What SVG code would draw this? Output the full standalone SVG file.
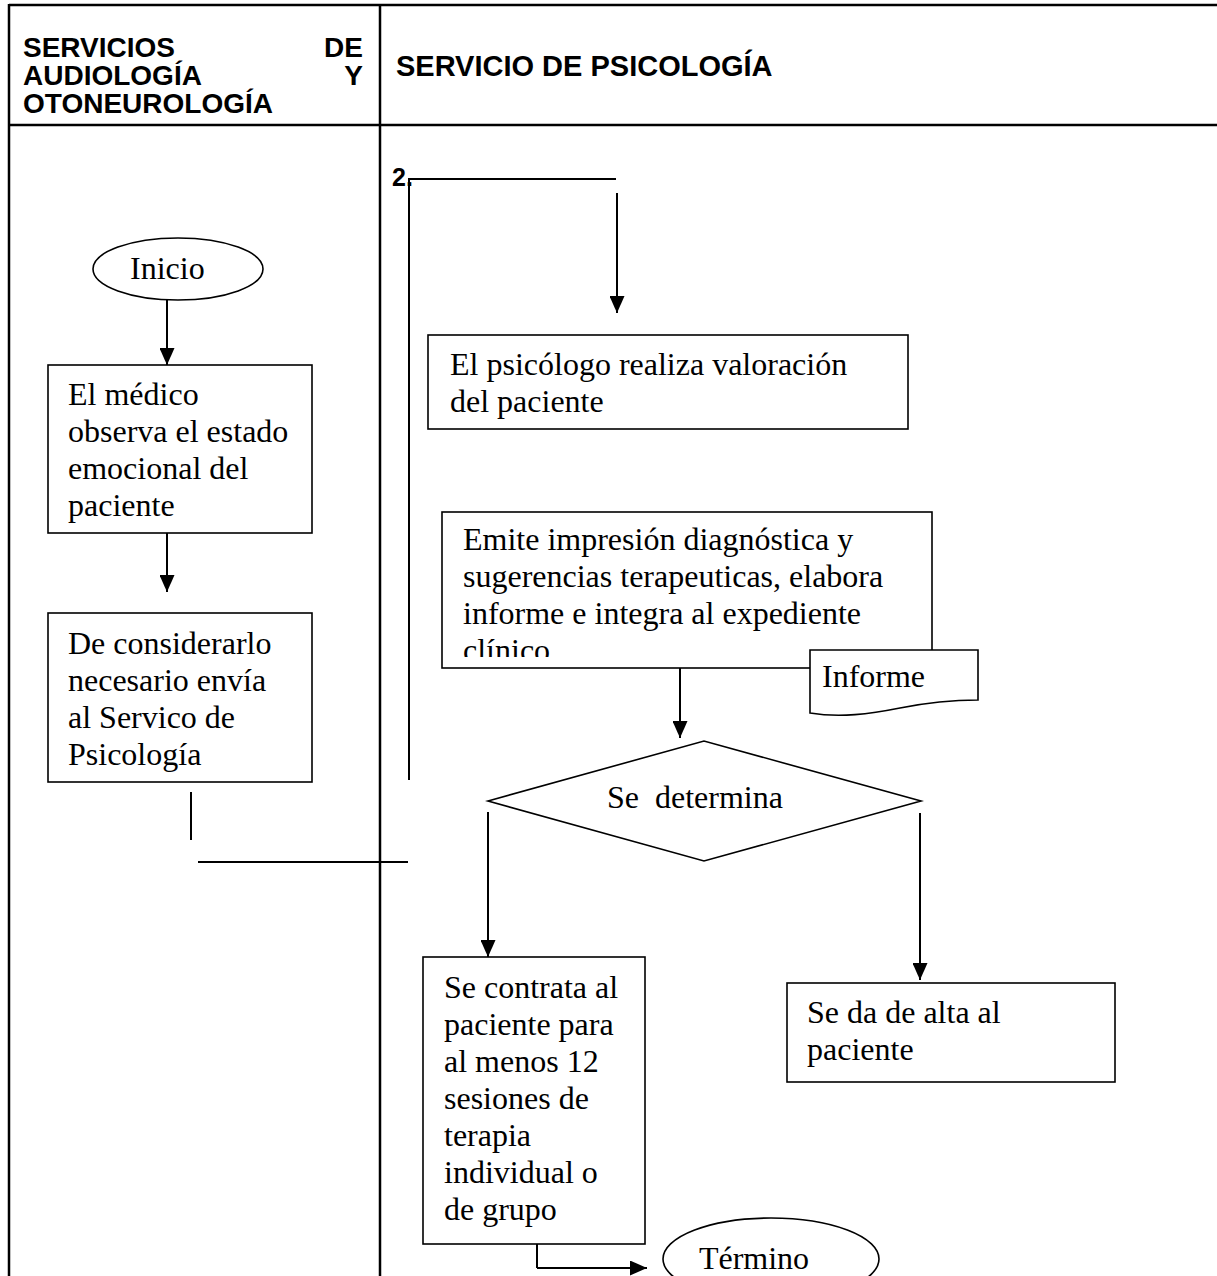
<svg xmlns="http://www.w3.org/2000/svg" width="1217" height="1276" viewBox="0 0 1217 1276">
<defs>
<style>
.tbl{stroke:#000;stroke-width:2.5;fill:none}
.box{stroke:#000;stroke-width:1.6;fill:#fff}
.ln{stroke:#000;stroke-width:2;fill:none}
.arr{stroke:#000;stroke-width:2;fill:none;marker-end:url(#ah)}
.hd{font-family:"Liberation Sans",Arial,sans-serif;font-weight:bold;font-size:28px;fill:#000}
.hd2{font-family:"Liberation Sans",Arial,sans-serif;font-weight:bold;font-size:29px;fill:#000}
.tx{font-family:"Liberation Serif","Times New Roman",serif;font-size:32px;fill:#000}
</style>
<marker id="ah" markerUnits="userSpaceOnUse" markerWidth="17" markerHeight="15" refX="17" refY="7.5" orient="auto">
<path d="M0,0 L17,7.5 L0,15 z" fill="#000"/>
</marker>
<clipPath id="clipEmite"><rect x="442" y="512" width="490" height="145"/></clipPath>
</defs>
<rect width="1217" height="1276" fill="#fff"/>
<g id="table">
<line class="tbl" x1="9" y1="5" x2="1217" y2="5"/>
<line class="tbl" x1="9" y1="125" x2="1217" y2="125"/>
<line class="tbl" x1="9" y1="4" x2="9" y2="1276"/>
<line class="tbl" x1="380" y1="4" x2="380" y2="1276"/>
<text class="hd" x="23" y="57">SERVICIOS</text>
<text class="hd" x="363" y="57" text-anchor="end">DE</text>
<text class="hd" x="23" y="85">AUDIOLOGÍA</text>
<text class="hd" x="363" y="85" text-anchor="end">Y</text>
<text class="hd" x="23" y="113">OTONEUROLOGÍA</text>
<text class="hd2" x="396" y="76">SERVICIO DE PSICOLOGÍA</text>
</g>
<g id="connectors">
<line class="arr" x1="167" y1="300" x2="167" y2="365"/>
<line class="arr" x1="167" y1="533" x2="167" y2="592"/>
<line class="ln" x1="191" y1="792" x2="191" y2="840"/>
<line class="ln" x1="198" y1="862" x2="408" y2="862"/>
<line class="ln" x1="409" y1="780" x2="409" y2="179"/>
<line class="ln" x1="408" y1="179" x2="616" y2="179"/>
<line class="arr" x1="617" y1="193" x2="617" y2="313"/>
<line class="arr" x1="680" y1="668" x2="680" y2="738"/>
<line class="arr" x1="488" y1="812" x2="488" y2="957"/>
<line class="arr" x1="920" y1="813" x2="920" y2="980"/>
<line class="ln" x1="537" y1="1244" x2="537" y2="1268"/>
<line class="arr" x1="537" y1="1268" x2="647" y2="1268"/>
<text x="392" y="186" font-family="Liberation Sans, Arial, sans-serif" font-weight="bold" font-size="25">2.</text>
</g>
<g id="inicio">
<ellipse class="box" cx="178" cy="269" rx="85" ry="31"/>
<text class="tx" x="130" y="279">Inicio</text>
</g>
<g id="observa">
<rect class="box" x="48" y="365" width="264" height="168"/>
<text class="tx" x="68" y="405">El médico</text>
<text class="tx" x="68" y="442">observa el estado</text>
<text class="tx" x="68" y="479">emocional del</text>
<text class="tx" x="68" y="516">paciente</text>
</g>
<g id="envia">
<rect class="box" x="48" y="613" width="264" height="169"/>
<text class="tx" x="68" y="654">De considerarlo</text>
<text class="tx" x="68" y="691">necesario envía</text>
<text class="tx" x="68" y="728">al Servico de</text>
<text class="tx" x="68" y="765">Psicología</text>
</g>
<g id="valoracion">
<rect class="box" x="428" y="335" width="480" height="94"/>
<text class="tx" x="450" y="375">El psicólogo realiza valoración</text>
<text class="tx" x="450" y="412">del paciente</text>
</g>
<g id="emite">
<rect class="box" x="442" y="512" width="490" height="156"/>
<g clip-path="url(#clipEmite)">
<text class="tx" x="463" y="550">Emite impresión diagnóstica y</text>
<text class="tx" x="463" y="587">sugerencias terapeuticas, elabora</text>
<text class="tx" x="463" y="624">informe e integra al expediente</text>
<text class="tx" x="463" y="661">clínico</text>
</g>
</g>
<g id="informe">
<path class="box" d="M810,650 H978 V700 C950,700 930,702 900,708 C870,714 840,718 810,713 Z"/>
<text class="tx" x="822" y="687">Informe</text>
</g>
<g id="decision">
<polygon class="box" points="488,801 704,741 921,801 704,861"/>
<text class="tx" x="607" y="808" xml:space="preserve">Se  determina</text>
</g>
<g id="contrata">
<rect class="box" x="423" y="957" width="222" height="287"/>
<text class="tx" x="444" y="998">Se contrata al</text>
<text class="tx" x="444" y="1035">paciente para</text>
<text class="tx" x="444" y="1072">al menos 12</text>
<text class="tx" x="444" y="1109">sesiones de</text>
<text class="tx" x="444" y="1146">terapia</text>
<text class="tx" x="444" y="1183">individual o</text>
<text class="tx" x="444" y="1220">de grupo</text>
</g>
<g id="alta">
<rect class="box" x="787" y="983" width="328" height="99"/>
<text class="tx" x="807" y="1023">Se da de alta al</text>
<text class="tx" x="807" y="1060">paciente</text>
</g>
<g id="termino">
<ellipse class="box" cx="771" cy="1259" rx="108" ry="41"/>
<text class="tx" x="754" y="1269" text-anchor="middle">Término</text>
</g>
</svg>
